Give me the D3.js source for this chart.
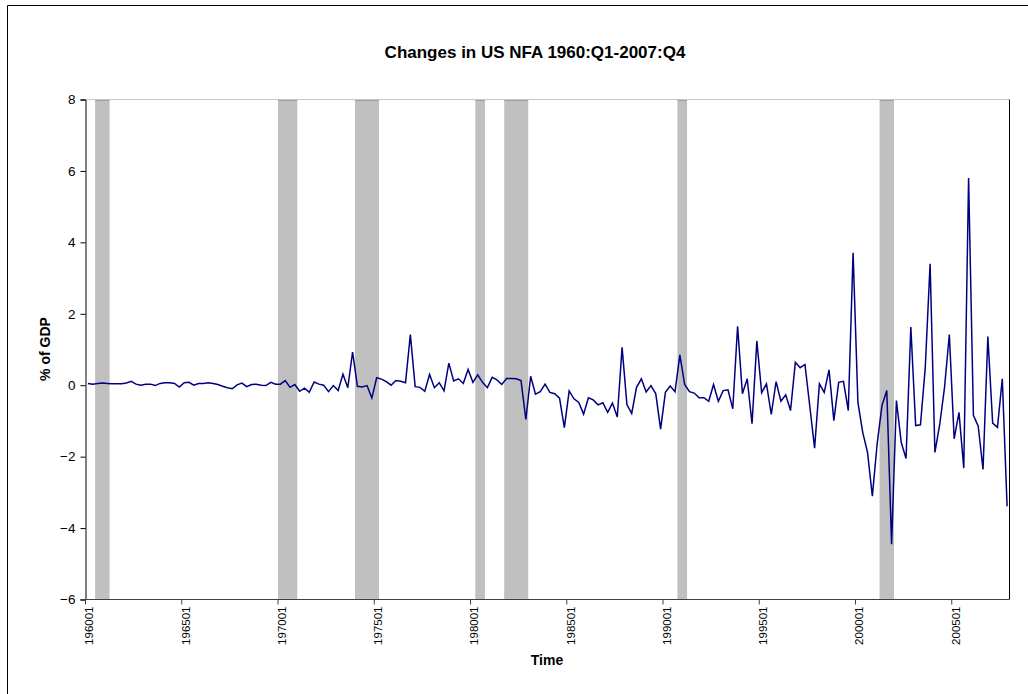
<!DOCTYPE html>
<html>
<head>
<meta charset="utf-8">
<script src="https://cdn.jsdelivr.net/npm/d3@7"></script>
<style>
  html, body { margin: 0; padding: 0; background: #fff; }
  svg { display: block; }
  text { font-family: "Liberation Sans", Arial, sans-serif; }
</style>
</head>
<body>
<svg id="chart" width="1028" height="694"></svg>
<script>
// ---- data ----
const titleText = "Changes in US NFA 1960:Q1-2007:Q4";
const yTitle = "% of GDP";
const xTitle = "Time";
const startYear = 1960;
const endYear = 2007;
const tickLabels = ["196001","196501","197001","197501","198001","198501","199001","199501","200001","200501"];
const yTicks = [-6, -4, -2, 0, 2, 4, 6, 8];
// NBER recession quarters (first, last)
const recessions = [
  ["196003","196101"],
  ["197001","197004"],
  ["197401","197501"],
  ["198002","198003"],
  ["198104","198204"],
  ["199004","199101"],
  ["200102","200104"]
];
// quarterly change in NFA, % of GDP, 1960Q1..2007Q4
const nfa = [
  0.05, 0.03, 0.05, 0.06, 0.05, 0.04, 0.04, 0.04, 0.06, 0.11,
  0.03, 0.00, 0.03, 0.03, -0.01, 0.05, 0.07, 0.07, 0.05, -0.05,
  0.07, 0.08, 0.00, 0.05, 0.05, 0.07, 0.05, 0.02, -0.03, -0.07,
  -0.10, 0.01, 0.06, -0.04, 0.02, 0.03, 0.00, -0.01, 0.08, 0.03,
  0.03, 0.13, -0.06, 0.02, -0.17, -0.08, -0.20, 0.09, 0.03, 0.00,
  -0.18, -0.01, -0.15, 0.31, -0.07, 0.93, -0.03, -0.05, -0.01, -0.36,
  0.21, 0.17, 0.10, 0.00, 0.13, 0.11, 0.07, 1.42, -0.04, -0.06,
  -0.17, 0.30, -0.07, 0.07, -0.16, 0.62, 0.12, 0.18, 0.05, 0.44,
  0.08, 0.29, 0.08, -0.07, 0.22, 0.15, 0.02, 0.19, 0.19, 0.18,
  0.13, -0.96, 0.25, -0.25, -0.18, 0.03, -0.20, -0.24, -0.36, -1.19,
  -0.16, -0.38, -0.48, -0.81, -0.35, -0.41, -0.55, -0.49, -0.76, -0.50,
  -0.89, 1.06, -0.54, -0.79, -0.06, 0.18, -0.19, -0.01, -0.24, -1.23,
  -0.20, -0.02, -0.18, 0.85, 0.02, -0.18, -0.22, -0.35, -0.35, -0.45,
  0.02, -0.45, -0.15, -0.13, -0.66, 1.65, -0.24, 0.18, -1.08, 1.24,
  -0.21, 0.04, -0.82, 0.10, -0.45, -0.27, -0.71, 0.64, 0.49, 0.58,
  -0.59, -1.76, 0.04, -0.20, 0.43, -0.99, 0.08, 0.11, -0.71, 3.71,
  -0.48, -1.32, -1.88, -3.11, -1.64, -0.57, -0.15, -4.45, -0.43, -1.60,
  -2.05, 1.63, -1.13, -1.11, 0.50, 3.40, -1.88, -1.10, -0.06, 1.42,
  -1.50, -0.76, -2.32, 5.80, -0.84, -1.15, -2.36, 1.36, -1.06, -1.18,
  0.18, -3.39
];

// category codes YYYY0Q
const quarters = [];
for (let y = startYear; y <= endYear; y++) for (let q = 1; q <= 4; q++) quarters.push(String(y) + "0" + q);
const data = quarters.map((c, i) => ({ c, v: nfa[i] }));

// ---- layout ----
const svg = d3.select("#chart");
const L = 85.5, R = 1009.5, T = 99.5, B = 599.5;
const x = d3.scaleBand().domain(quarters).range([L, R]).padding(0);
const y = d3.scaleLinear().domain([-6, 8]).range([B, T]);
const bw = x.bandwidth();

// outer chart frame (left and top edges visible)
svg.append("path").attr("d", "M7.5,694 L7.5,5.5 L1028,5.5")
  .attr("fill", "none").attr("stroke", "#000").attr("stroke-width", 1);

// recession bands
svg.append("g").selectAll("rect").data(recessions).join("rect")
  .attr("x", d => x(d[0]))
  .attr("y", y(8))
  .attr("width", d => x(d[1]) + bw - x(d[0]))
  .attr("height", y(-6) - y(8))
  .attr("fill", "#c0c0c0");
svg.append("g").selectAll("line").data(recessions).join("line")
  .attr("x1", d => x(d[0])).attr("x2", d => x(d[1]) + bw)
  .attr("y1", y(8) + 0.5).attr("y2", y(8) + 0.5)
  .attr("stroke", "#808080").attr("stroke-width", 1);

// plot-area border: top light gray, right black
svg.append("line").attr("x1", L).attr("x2", R).attr("y1", T).attr("y2", T)
  .attr("stroke", "#c8c8c8");
svg.append("line").attr("x1", R).attr("x2", R).attr("y1", T).attr("y2", B)
  .attr("stroke", "#000");

// series line
const line = d3.line().x(d => x(d.c) + bw / 2).y(d => y(d.v));
svg.append("path").datum(data)
  .attr("d", line)
  .attr("fill", "none")
  .attr("stroke", "#000080")
  .attr("stroke-width", 1.5)
  .attr("stroke-linejoin", "miter");

// y axis
const yAxis = d3.axisLeft(y).tickValues(yTicks).tickSize(5).tickPadding(5).tickFormat(d3.format("d"));
const gy = svg.append("g").attr("transform", `translate(${L},0)`).call(yAxis);
gy.select(".domain").attr("stroke", "#000");
gy.selectAll(".tick line").attr("stroke", "#000");
gy.selectAll(".tick text").attr("font-size", 13.5).attr("fill", "#000")
  .attr("font-family", "'Liberation Sans', Arial, sans-serif");

// x axis (ticks at category boundaries, labels rotated)
const xTickAxis = d3.axisBottom(x).tickValues(tickLabels).tickSize(5).tickFormat("");
const gx = svg.append("g").attr("transform", `translate(0,${B})`).call(xTickAxis);
gx.select(".domain").attr("stroke", "#404040").attr("d", `M${L - 5},0H${R}`);
gx.selectAll(".tick").attr("transform", d => `translate(${x(d)},0)`);
gx.selectAll(".tick line").attr("stroke", "#404040");
gx.selectAll(".tick").append("text")
  .attr("transform", `translate(${bw / 2 + 1.5},7) rotate(-90)`)
  .attr("text-anchor", "end")
  .attr("dy", "0.35em")
  .attr("font-size", 11.5)
  .attr("fill", "#000")
  .attr("font-family", "'Liberation Sans', Arial, sans-serif")
  .text(d => d);

// titles
svg.append("text").attr("x", 535).attr("y", 58).attr("text-anchor", "middle")
  .attr("font-size", 17).attr("font-weight", "bold").text(titleText);
svg.append("text").attr("transform", "translate(50,349) rotate(-90)")
  .attr("text-anchor", "middle").attr("font-size", 14).attr("font-weight", "bold").text(yTitle);
svg.append("text").attr("x", 547).attr("y", 665).attr("text-anchor", "middle")
  .attr("font-size", 14).attr("font-weight", "bold").text(xTitle);
</script>
</body>
</html>
